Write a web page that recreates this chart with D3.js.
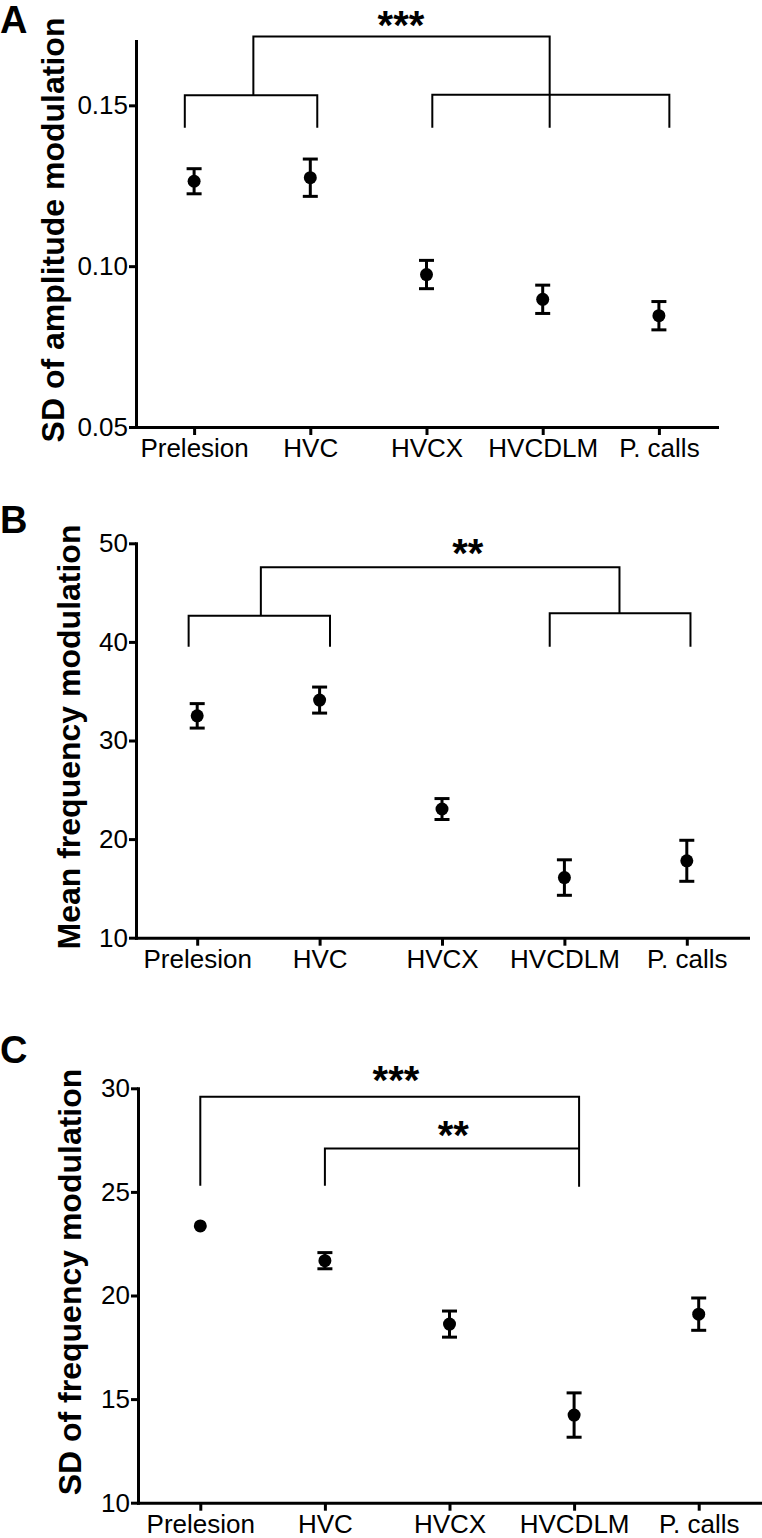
<!DOCTYPE html>
<html>
<head>
<meta charset="utf-8">
<script src="https://cdn.jsdelivr.net/npm/d3@7"></script>
<style>
  body { margin: 0; background: #fff; }
  svg { display: block; font-family: "Liberation Sans", Arial, Helvetica, sans-serif; }
</style>
</head>
<body>
<svg width="762" height="1538"></svg>
<script>
// groups on the x axis (same for all three panels)
const categories = ["Prelesion", "HVC", "HVCX", "HVCDLM", "P. calls"];

// A: SD of amplitude modulation (mean +- sem)
const ampSdMean = [0.1264, 0.1275, 0.0974, 0.0897, 0.0846];
const ampSdErr = [0.0039, 0.0058, 0.0044, 0.0044, 0.0044];
const ampSdTicks = [0.05, 0.10, 0.15];

// B: mean frequency modulation
const fmMean = [32.5, 34.1, 23.05, 16.1, 17.8];
const fmMeanErr = [1.24, 1.32, 1.06, 1.8, 2.08];
const fmMeanTicks = [10, 20, 30, 40, 50];

// C: SD of frequency modulation (prelesion error is hidden by the dot)
const fmSd = [23.36, 21.68, 18.62, 14.23, 19.1];
const fmSdErr = [0, 0.39, 0.63, 1.07, 0.78];
const fmSdTicks = [10, 15, 20, 25, 30];

// significance brackets, as [category index, value] points
const bracketsA = [
  [[-0.08, 0.143], [-0.08, 0.1531], [1.06, 0.1531], [1.06, 0.143]],
  [[2.05, 0.143], [2.05, 0.1533], [4.09, 0.1533], [4.09, 0.143]],
  [[0.51, 0.1531], [0.51, 0.1714], [3.06, 0.1714], [3.06, 0.143]]
];
const starsA = [{ i: 1.78, v: 0.1706, label: "***" }];

const bracketsB = [
  [[-0.07, 39.5], [-0.07, 42.66], [1.085, 42.66], [1.085, 39.5]],
  [[2.88, 39.5], [2.88, 42.9], [4.03, 42.9], [4.03, 39.5]],
  [[0.52, 42.66], [0.52, 47.57], [3.45, 47.57], [3.45, 42.9]]
];
const starsB = [{ i: 2.21, v: 47.6, label: "**" }];

const bracketsC = [
  [[0, 25.3], [0, 29.59], [3.04, 29.59], [3.04, 25.25]],
  [[1.0, 25.3], [1.0, 27.1], [3.04, 27.1]]
];
const starsC = [
  { i: 1.57, v: 29.74, label: "***" },
  { i: 2.03, v: 27.09, label: "**" }
];

const svg = d3.select("svg");

function drawPanel(p) {
  const g = svg.append("g");

  const x = d3.scalePoint().domain(categories).range([p.x0, p.x1]).padding(0.5);
  // fractional category positions for the brackets
  const xi = d3.scaleLinear()
    .domain([0, categories.length - 1])
    .range([x(categories[0]), x(categories[categories.length - 1])]);
  const y = d3.scaleLinear().domain(p.domain).range([p.y0, p.y1]);

  const yAxis = g.append("g")
    .attr("transform", `translate(${p.x0},0)`)
    .call(d3.axisLeft(y).tickValues(p.ticks).tickFormat(p.fmt)
      .tickSize(7).tickSizeOuter(0).tickPadding(1));
  yAxis.selectAll("text").style("font-size", "26px").attr("fill", "#000");

  const xAxis = g.append("g")
    .attr("transform", `translate(0,${p.y0})`)
    .call(d3.axisBottom(x).tickSize(8).tickSizeOuter(0).tickPadding(4));
  xAxis.selectAll("text").style("font-size", "26px").attr("fill", "#000");

  g.selectAll(".domain").attr("stroke", "#000").attr("stroke-width", 3)
    .attr("stroke-linecap", "square");
  g.selectAll(".tick line").attr("stroke", "#000").attr("stroke-width", 3);

  // y axis title
  g.append("text")
    .attr("transform", `translate(${p.titleX},${p.titleY}) rotate(-90)`)
    .attr("text-anchor", "middle")
    .style("font-size", "32px")
    .style("font-weight", "bold")
    .text(p.title);

  // panel letter
  g.append("text")
    .attr("x", 0).attr("y", p.letterY)
    .style("font-size", p.letterSize + "px")
    .style("font-weight", "bold")
    .text(p.letter);

  // brackets
  const line = d3.line().x(d => xi(d[0])).y(d => y(d[1]));
  g.selectAll(".bracket").data(p.brackets).enter().append("path")
    .attr("class", "bracket")
    .attr("d", line)
    .attr("fill", "none")
    .attr("stroke", "#000")
    .attr("stroke-width", 2);

  g.selectAll(".star").data(p.stars).enter().append("text")
    .attr("class", "star")
    .attr("x", d => xi(d.i))
    .attr("y", d => y(d.v))
    .attr("text-anchor", "middle")
    .style("font-size", "40px")
    .style("font-weight", "bold")
    .text(d => d.label);

  // error bars + points (no bar when the error is zero)
  const rows = categories.map((c, k) => ({ c, m: p.mean[k], e: p.err[k] }));
  const pts = g.selectAll(".pt").data(rows).enter().append("g").attr("class", "pt");
  const withErr = pts.filter(d => d.e > 0);
  withErr.append("line")
    .attr("x1", d => x(d.c)).attr("x2", d => x(d.c))
    .attr("y1", d => y(d.m - d.e)).attr("y2", d => y(d.m + d.e))
    .attr("stroke", "#000").attr("stroke-width", 3);
  [-1, 1].forEach(s => {
    withErr.append("line")
      .attr("x1", d => x(d.c) - 7.5).attr("x2", d => x(d.c) + 7.5)
      .attr("y1", d => y(d.m + s * d.e)).attr("y2", d => y(d.m + s * d.e))
      .attr("stroke", "#000").attr("stroke-width", 3);
  });
  pts.append("circle")
    .attr("cx", d => x(d.c)).attr("cy", d => y(d.m))
    .attr("r", 6.5).attr("fill", "#000");
}

drawPanel({
  letter: "A", letterY: 33, letterSize: 38,
  title: "SD of amplitude modulation", titleX: 64, titleY: 230,
  x0: 136, x1: 717, y0: 427, y1: 41,
  domain: [0.05, 0.17], ticks: ampSdTicks, fmt: d3.format(".2f"),
  mean: ampSdMean, err: ampSdErr, brackets: bracketsA, stars: starsA
});

drawPanel({
  letter: "B", letterY: 533, letterSize: 38,
  title: "Mean frequency modulation", titleX: 80, titleY: 737,
  x0: 136, x1: 748, y0: 937.7, y1: 543.3,
  domain: [10, 50], ticks: fmMeanTicks, fmt: d3.format("d"),
  mean: fmMean, err: fmMeanErr, brackets: bracketsB, stars: starsB
});

drawPanel({
  letter: "C", letterY: 1063, letterSize: 38,
  title: "SD of frequency modulation", titleX: 81, titleY: 1282,
  x0: 138, x1: 761, y0: 1502.7, y1: 1088.3,
  domain: [10, 30], ticks: fmSdTicks, fmt: d3.format("d"),
  mean: fmSd, err: fmSdErr, brackets: bracketsC, stars: starsC
});
</script>
</body>
</html>
